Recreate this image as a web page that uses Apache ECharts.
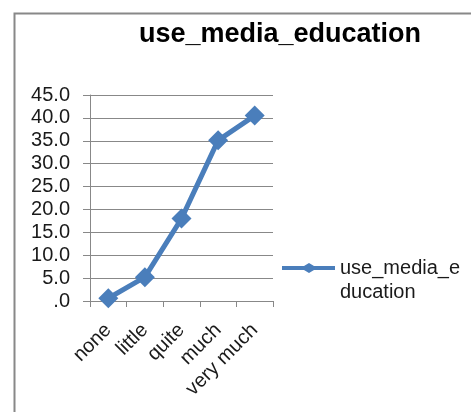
<!DOCTYPE html>
<html><head><meta charset="utf-8">
<script src="https://cdn.jsdelivr.net/npm/echarts@6/dist/echarts.min.js"></script>
<style>html,body{margin:0;padding:0;background:#fff}#c{width:471px;height:412px}</style>
</head><body><div id="c"></div>
<script>
const title = 'use_media_education';
const categories = ['none', 'little', 'quite', 'much', 'very much'];
const values = [0.6, 5.2, 18.0, 35.1, 40.5];
const yTicks = [0, 5, 10, 15, 20, 25, 30, 35, 40, 45];

const FONT = 'Liberation Sans, Arial';
const chart = echarts.init(document.getElementById('c'));
chart.setOption({
  animation: false,
  backgroundColor: '#fff',
  graphic: [{
    type: 'rect', left: 12, top: 11,
    shape: {width: 480, height: 420},
    style: {fill: 'none', stroke: '#888', lineWidth: 2}
  }],
  title: {
    text: title, left: 275, top: 16, textAlign: 'center',
    textStyle: {fontFamily: FONT, fontSize: 27, fontWeight: 'bold', color: '#000'}
  },
  legend: {
    left: 282, top: 232, itemWidth: 53, itemHeight: 10, itemGap: 5, padding: 0,
    formatter: () => '\nuse_media_e\nducation',
    textStyle: {fontFamily: FONT, fontSize: 20, color: '#1a1a1a', lineHeight: 24},
    data: [{name: title, icon: 'path://M0,3 L22,3 L27,0 L32,3 L53,3 L53,7 L32,7 L27,10 L22,7 L0,7 Z'}]
  },
  grid: {left: 90, right: 198, top: 95, bottom: 111},
  xAxis: {
    type: 'category', data: categories, boundaryGap: true,
    axisLine: {lineStyle: {color: '#888', width: 1}},
    axisTick: {show: true, length: 6, alignWithLabel: false, lineStyle: {color: '#888'}},
    axisLabel: {rotate: 45, margin: 26, interval: 0, fontFamily: FONT, fontSize: 20, color: '#1a1a1a'}
  },
  yAxis: {
    type: 'value', min: 0, max: 45, interval: 5,
    axisLine: {show: true, lineStyle: {color: '#888', width: 1}},
    axisTick: {show: true, length: 7, lineStyle: {color: '#888'}},
    splitLine: {lineStyle: {color: '#888', width: 1}},
    axisLabel: {margin: 20, fontFamily: FONT, fontSize: 20, color: '#1a1a1a',
      formatter: v => v === 0 ? '.0' : v.toFixed(1)}
  },
  series: [{
    name: title, type: 'line', data: values,
    symbol: 'diamond', symbolSize: 20,
    lineStyle: {color: '#4A7EBB', width: 5},
    itemStyle: {color: '#4A7EBB'}
  }]
});
</script></body></html>
